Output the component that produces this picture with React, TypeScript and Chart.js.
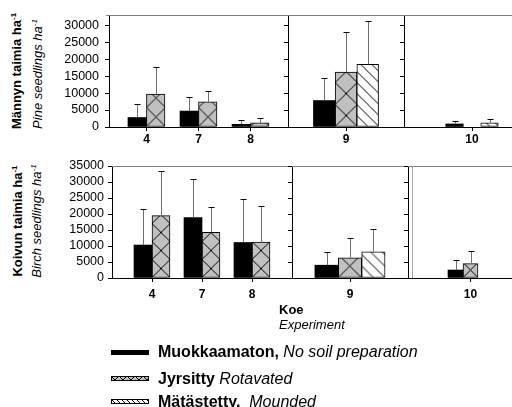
import React, { useEffect, useRef } from "react";
import { Chart, registerables } from "chart.js";

Chart.register(...registerables);

const FONT = '"Liberation Sans", Arial, Helvetica, sans-serif';

// Experiments (Koe) along the x axis
const experiments = ["4", "7", "8", "9", "10"];
// Experiments that share one plot frame
const frameGroups = [[0, 1, 2], [3], [4]];

const seriesNames = ["Muokkaamaton", "Jyrsitty", "Mätästetty"];
const seriesKinds = ["solid", "cross", "diag"];

// Pine seedlings per hectare: treatment means and standard deviations
const pineNoPrep = [2800, 4700, 800, 7800, 900];
const pineRotavated = [9700, 7400, 1200, 16200, 0];
const pineMounded = [null, null, null, 18500, 1200];
const pineNoPrepSd = [4100, 4000, 1300, 6600, 950];
const pineRotavatedSd = [7900, 3300, 1450, 11800, 0];
const pineMoundedSd = [null, null, null, 12800, 1300];

// Birch seedlings per hectare: treatment means and standard deviations
const birchNoPrep = [10300, 18900, 11100, 4000, 2500];
const birchRotavated = [19500, 14300, 11200, 6300, 4500];
const birchMounded = [null, null, null, 8200, 0];
const birchNoPrepSd = [11200, 12100, 13700, 4000, 3150];
const birchRotavatedSd = [13800, 7800, 11300, 6300, 3850];
const birchMoundedSd = [null, null, null, 7200, 0];

const pineYTicks = [0, 5000, 10000, 15000, 20000, 25000, 30000];
const birchYTicks = [0, 5000, 10000, 15000, 20000, 25000, 30000, 35000];
const pineAxisMax = 33000;
const birchAxisMax = 35000;

type Kind = "solid" | "cross" | "diag";

function makeTile(kind: Kind, w: number): CanvasPattern | string {
  const s = Math.max(4, Math.round(w));
  const c = document.createElement("canvas");
  c.width = s;
  c.height = s;
  const g = c.getContext("2d");
  if (!g) return "#c0c0c0";
  g.fillStyle = kind === "cross" ? "#c0c0c0" : "#ffffff";
  g.fillRect(0, 0, s, s);
  g.strokeStyle = "#000";
  g.lineWidth = 1;
  g.beginPath();
  const down = kind === "cross" ? [-s, 0, s] : [-s, -s / 2, 0, s / 2, s];
  for (const c0 of down) {
    g.moveTo(-1, -1 + c0);
    g.lineTo(s + 1, s + 1 + c0);
  }
  if (kind === "cross") {
    for (const c0 of [0, s, 2 * s]) {
      g.moveTo(-1, c0 + 1);
      g.lineTo(s + 1, c0 - s - 1);
    }
  }
  g.stroke();
  return g.createPattern(c, "repeat") || "#c0c0c0";
}

// Anchor each bar's hatch to the bar's own lower-left corner
const hatchAnchor = {
  id: "hatchAnchor",
  beforeDatasetsDraw(chart: any) {
    chart.data.datasets.forEach((_ds: any, di: number) => {
      const meta = chart.getDatasetMeta(di);
      meta.data.forEach((el: any) => {
        const fill = el.options && el.options.backgroundColor;
        if (typeof CanvasPattern !== "undefined" && fill instanceof CanvasPattern) {
          const p = el.getProps(["x", "width", "base"], true);
          fill.setTransform(new DOMMatrix([1, 0, 0, 1, p.x - p.width / 2, p.base]));
        }
      });
    });
  },
};

// Upper standard-deviation whiskers
const sdWhiskers = {
  id: "sdWhiskers",
  afterDatasetsDraw(chart: any) {
    const { ctx } = chart;
    const yScale = chart.scales.y;
    chart.data.datasets.forEach((ds: any, di: number) => {
      const meta = chart.getDatasetMeta(di);
      meta.data.forEach((el: any, i: number) => {
        const v = ds.data[i].y;
        const e = ds.errors[i];
        if (v == null || !e) return;
        const yTop = Math.round(yScale.getPixelForValue(v + e)) + 0.5;
        const x = Math.round(el.x) + 0.5;
        ctx.save();
        ctx.lineWidth = 1;
        ctx.strokeStyle = "#6e6e6e";
        ctx.beginPath();
        ctx.moveTo(x, el.y);
        ctx.lineTo(x, yTop);
        ctx.stroke();
        ctx.strokeStyle = "#000";
        ctx.beginPath();
        ctx.moveTo(x - 3, yTop);
        ctx.lineTo(x + 3, yTop);
        ctx.stroke();
        ctx.restore();
      });
    });
  },
};

// Top edge of the plot frame, plus an optional inner edge line
const frame = {
  id: "frame",
  afterDraw(chart: any, _args: any, opts: any) {
    const { ctx, chartArea: a } = chart;
    ctx.save();
    ctx.lineWidth = 1;
    ctx.strokeStyle = opts.color || "#808080";
    const y = Math.round(a.top) + 0.5;
    ctx.beginPath();
    ctx.moveTo(a.left - (opts.lead || 0), y);
    ctx.lineTo(a.right, y);
    ctx.stroke();
    if (opts.innerEdge) {
      const x = Math.round(a.left + opts.innerEdge) + 0.5;
      ctx.strokeStyle = "#a0a0a0";
      ctx.beginPath();
      ctx.moveTo(x, a.top);
      ctx.lineTo(x, a.bottom);
      ctx.stroke();
    }
    ctx.restore();
  },
};

type SectionLayout = { left: number; right: number; pad: number; bar: number };
type PanelLayout = {
  top: number;
  zero: number;
  yLabelPad: number;
  xLabelPad: number;
  sections: SectionLayout[];
  innerEdge?: number;
  lead: number;
};

const pineLayout: PanelLayout = {
  top: 15,
  zero: 127,
  yLabelPad: 6,
  xLabelPad: 1,
  lead: 3,
  sections: [
    { left: 109, right: 288, pad: 0.72, bar: 18.5 },
    { left: 288, right: 404, pad: 0.5, bar: 21.7 },
    { left: 404, right: 540, pad: 0.5, bar: 17.5 },
  ],
};

const birchLayout: PanelLayout = {
  top: 166,
  zero: 278,
  yLabelPad: 4,
  xLabelPad: 5,
  lead: 0,
  sections: [
    { left: 112, right: 292, pad: 0.8, bar: 18 },
    { left: 292, right: 408, pad: 0.5, bar: 23.4 },
    { left: 408, right: 533, pad: 0.5, bar: 15 },
  ],
  innerEdge: 4,
};

type SectionProps = {
  layout: PanelLayout;
  index: number;
  values: (number | null)[][];
  errors: (number | null)[][];
  yTicks: number[];
  yMax: number;
};

const TOP_ROOM = 9;

function SectionChart({ layout, index, values, errors, yTicks, yMax }: SectionProps) {
  const ref = useRef<HTMLCanvasElement>(null);
  const sec = layout.sections[index];
  const group = frameGroups[index];
  const axisW = index === 0 ? 60 : 6;
  const xAxisH = 26;
  const width = axisW + sec.right - sec.left;
  const height = TOP_ROOM + layout.zero - layout.top + xAxisH;

  useEffect(() => {
    const canvas = ref.current;
    if (!canvas) return;
    const datasets = values.map((vals, k) => {
      const kind = seriesKinds[k] as Kind;
      return {
        label: seriesNames[k],
        data: group.map((i) => ({ x: i, y: vals[i] })),
        errors: group.map((i) => errors[k][i]),
        backgroundColor: kind === "solid" ? "#000" : () => makeTile(kind, sec.bar),
        borderColor: "#000",
        borderWidth: kind === "solid" ? 0 : 1,
        borderSkipped: false,
        barThickness: sec.bar,
        skipNull: true,
      };
    });

    const chart = new Chart(canvas, {
      type: "bar",
      data: { datasets: datasets as any },
      options: {
        responsive: false,
        maintainAspectRatio: false,
        animation: false,
        devicePixelRatio: 1,
        events: [],
        layout: { padding: { top: TOP_ROOM, left: 0, right: 0, bottom: 0 }, autoPadding: false },
        plugins: {
          legend: { display: false },
          tooltip: { enabled: false },
          frame: {
            color: "#808080",
            innerEdge: index === 2 ? layout.innerEdge : 0,
            lead: index === 0 ? layout.lead : 0,
          },
        } as any,
        scales: {
          x: {
            type: "linear",
            bounds: "data",
            offset: false,
            min: group[0] - sec.pad,
            max: group[group.length - 1] + sec.pad,
            afterBuildTicks: (scale: any) => {
              scale.ticks = group.map((v) => ({ value: v }));
            },
            afterFit: (scale: any) => {
              scale.height = xAxisH;
              scale.paddingLeft = 0;
              scale.paddingRight = 0;
            },
            ticks: {
              autoSkip: false,
              maxRotation: 0,
              minRotation: 0,
              padding: layout.xLabelPad,
              color: "#000",
              font: { family: FONT, size: 12, weight: "bold" },
              callback: (v: any) => experiments[v as number] ?? "",
            },
            grid: {
              display: true,
              offset: false,
              drawOnChartArea: false,
              drawTicks: true,
              tickLength: 4,
              tickColor: "#000",
              color: "#000",
            },
            border: { display: true, color: "#000", width: 1 },
          },
          y: {
            type: "linear",
            bounds: "data",
            min: 0,
            max: yMax,
            afterBuildTicks: (scale: any) => {
              scale.ticks = yTicks.map((v) => ({ value: v }));
            },
            afterFit: (scale: any) => {
              scale.width = axisW;
              scale.paddingTop = 0;
              scale.paddingBottom = 0;
            },
            ticks: {
              display: index === 0,
              autoSkip: false,
              padding: layout.yLabelPad,
              color: "#000",
              font: { family: FONT, size: 12.5 },
              callback: (v: any) => String(v),
            },
            grid: {
              display: true,
              drawOnChartArea: false,
              drawTicks: true,
              tickLength: 4,
              tickColor: "#000",
              color: "#000",
            },
            border: { display: true, color: "#000", width: 1 },
          },
        } as any,
      },
      plugins: [hatchAnchor, sdWhiskers, frame],
    } as any);
    return () => chart.destroy();
  }, []);

  return (
    <canvas
      ref={ref}
      width={width}
      height={height}
      style={{ position: "absolute", left: sec.left - axisW, top: layout.top - TOP_ROOM, width, height }}
    />
  );
}

function Swatch({ kind, top }: { kind: Kind; top: number }) {
  const ref = useRef<HTMLCanvasElement>(null);
  useEffect(() => {
    const c = ref.current;
    const g = c && c.getContext("2d");
    if (!c || !g) return;
    g.clearRect(0, 0, c.width, c.height);
    g.fillStyle = "#000";
    g.fillRect(0, 0, c.width, c.height);
    if (kind !== "solid") {
      g.fillStyle = makeTile(kind, kind === "cross" ? 8 : 10) as any;
      g.fillRect(1, 1, c.width - 2, c.height - 2);
    }
  }, []);
  return <canvas ref={ref} width={38} height={5} style={{ position: "absolute", left: 111, top }} />;
}

function AxisTitle({ x, y, bold, text }: { x: number; y: number; bold: boolean; text: string }) {
  return (
    <div
      style={{
        position: "absolute",
        left: x,
        top: y,
        transform: "translate(-50%, -50%) rotate(-90deg)",
        whiteSpace: "nowrap",
        fontSize: 13,
        lineHeight: "13px",
        fontWeight: bold ? "bold" : "normal",
        fontStyle: bold ? "normal" : "italic",
      }}
    >
      {text}
      <span style={{ fontSize: 8, position: "relative", top: -5 }}>-1</span>
    </div>
  );
}

const legendRows: { kind: Kind; name: string; note: string; top: number; swatchTop: number }[] = [
  { kind: "solid", name: "Muokkaamaton,", note: " No soil preparation", top: 342, swatchTop: 350 },
  { kind: "cross", name: "Jyrsitty", note: " Rotavated", top: 369, swatchTop: 376 },
  { kind: "diag", name: "Mätästetty,", note: "  Mounded", top: 392, swatchTop: 399 },
];

export default function App() {
  const pineValues = [pineNoPrep, pineRotavated, pineMounded];
  const pineErrors = [pineNoPrepSd, pineRotavatedSd, pineMoundedSd];
  const birchValues = [birchNoPrep, birchRotavated, birchMounded];
  const birchErrors = [birchNoPrepSd, birchRotavatedSd, birchMoundedSd];

  return (
    <div
      style={{
        position: "fixed",
        left: 0,
        top: 0,
        width: 512,
        height: 407,
        overflow: "hidden",
        background: "#fff",
        color: "#000",
        fontFamily: FONT,
      }}
    >
      {frameGroups.map((_g, i) => (
        <SectionChart
          key={"p" + i}
          layout={pineLayout}
          index={i}
          values={pineValues}
          errors={pineErrors}
          yTicks={pineYTicks}
          yMax={pineAxisMax}
        />
      ))}
      {frameGroups.map((_g, i) => (
        <SectionChart
          key={"b" + i}
          layout={birchLayout}
          index={i}
          values={birchValues}
          errors={birchErrors}
          yTicks={birchYTicks}
          yMax={birchAxisMax}
        />
      ))}

      <AxisTitle x={17} y={71} bold={true} text="Männyn taimia ha" />
      <AxisTitle x={37.5} y={74} bold={false} text="Pine seedlings ha" />
      <AxisTitle x={18} y={221} bold={true} text="Koivun taimia ha" />
      <AxisTitle x={36.5} y={220.5} bold={false} text="Birch seedlings ha" />

      <div style={{ position: "absolute", left: 279, top: 302, fontSize: 13, lineHeight: "15px", fontWeight: "bold" }}>Koe</div>
      <div style={{ position: "absolute", left: 279, top: 317, fontSize: 13, lineHeight: "15px", fontStyle: "italic" }}>
        Experiment
      </div>

      {legendRows.map((r) => (
        <React.Fragment key={r.name}>
          <Swatch kind={r.kind} top={r.swatchTop} />
          <div
            style={{
              position: "absolute",
              left: 158,
              top: r.top,
              fontSize: 16,
              lineHeight: "19px",
              whiteSpace: "pre",
            }}
          >
            <span style={{ fontWeight: "bold" }}>{r.name}</span>
            <span style={{ fontStyle: "italic" }}>{r.note}</span>
          </div>
        </React.Fragment>
      ))}
    </div>
  );
}
